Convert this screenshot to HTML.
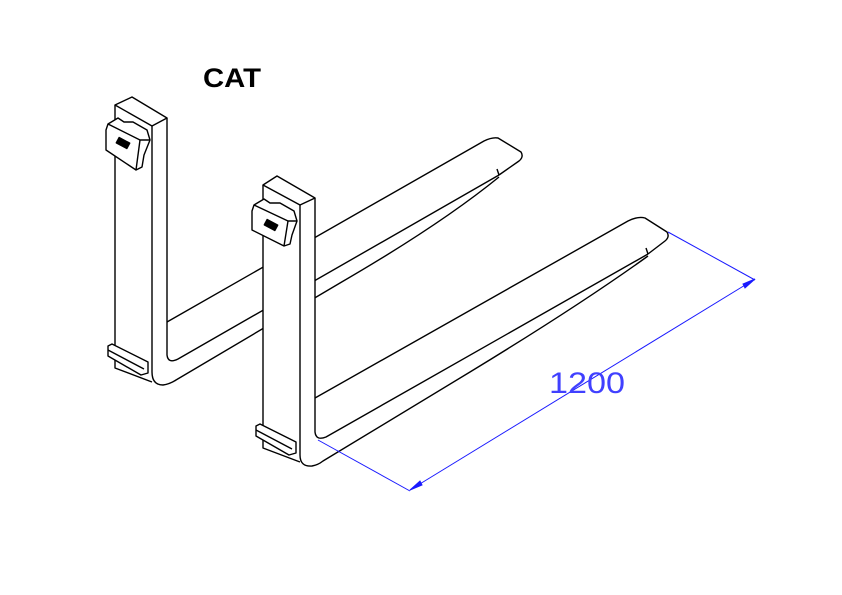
<!DOCTYPE html>
<html><head><meta charset="utf-8"><style>
html,body{margin:0;padding:0;background:#fff;}
svg{display:block;}
</style></head><body>
<svg width="842" height="595" viewBox="0 0 842 595" xmlns="http://www.w3.org/2000/svg">
<rect width="842" height="595" fill="#fff"/>
<g fill="none" stroke="#000" stroke-width="1.4" stroke-linejoin="round">
<!-- BACK FORK blade -->
<path d="M167,322 L484,141 Q492,137 498,138 L521,152 Q524,157 519,161 L499,175"/>
<path d="M167,336 L167,355 Q168,364 178,359 L499,175"/>
<path d="M497,169 L499,175"/>
<path d="M152,126 L152,372 Q152,385 163,385 Q170,384 176,380 L340,283 Q440,225 499,177"/>
<!-- back upright -->
<path d="M115,105 L132,97 L167,118 L152,126 Z"/>
<path d="M115,105 L115,368 L152,382"/>
<path d="M167,118 L167,336"/>
<!-- top clip -->
<path d="M106,130 L108,124 L118,118 L124,122 L133,122 L140,126 L147,130 L150,140 L144,155 L142,167 L136,170 L106,150 Z" fill="#fff"/>
<path d="M108,124 L140,140 L150,140"/>
<path d="M140,140 L136,170"/>
<rect x="117" y="140" width="12" height="6" fill="#000" transform="rotate(28 123 143)"/>
<!-- bottom clip -->
<path d="M108,346 L112,344 L148,362 L148,373 L141,375 L108,356 Z" fill="#fff"/>
<path d="M108,350 L144,369"/>

<!-- FRONT upright cover -->
<path d="M263,185 L277,176 L315,198 L315,455 L305,467 L263,448 Z" fill="#fff" stroke="none"/>
<!-- FRONT FORK blade -->
<path d="M315,398 L628,221 Q638,216 645,218 L667,232 Q670,237 665,241 L648,254"/>
<path d="M315,237 L315,432 Q316,441 326,437 L648,254"/>
<path d="M646,248 L648,254"/>
<path d="M300,205 L300,455 Q300,467 312,466 Q318,465 323,461 L470,372 Q580,305 648,256"/>
<!-- front upright -->
<path d="M263,185 L277,176 L315,198 L300,205 Z"/>
<path d="M263,185 L263,448 L300,462"/>
<path d="M315,198 L315,237"/>
<!-- top clip -->
<path d="M252,211 L254,205 L264,199 L270,203 L280,203 L287,207 L294,211 L297,221 L292,235 L290,244 L284,246 L252,230 Z" fill="#fff"/>
<path d="M254,205 L288,221 L297,221"/>
<path d="M288,221 L284,246"/>
<rect x="265" y="222" width="12" height="6" fill="#000" transform="rotate(28 271 225)"/>
<!-- bottom clip -->
<path d="M256,426 L260,424 L296,442 L296,453 L289,455 L256,436 Z" fill="#fff"/>
<path d="M256,430 L292,449"/>
</g>
<!-- dimension -->
<g stroke="#1a1aff" stroke-width="1" fill="#1a1aff">
<line x1="318" y1="440" x2="410" y2="491"/>
<line x1="410" y1="490" x2="755" y2="279"/>
<line x1="668" y1="232" x2="755" y2="280"/>
<path d="M410,490 L420,481 L422,485 Z"/>
<path d="M755,279 L745,288 L743,284 Z"/>
</g>
<text x="549" y="393" font-family="Liberation Sans, sans-serif" font-size="30" fill="#4040ff" textLength="76" lengthAdjust="spacingAndGlyphs">1200</text>
<text x="203" y="87" font-family="Liberation Sans, sans-serif" font-size="27" font-weight="bold" fill="#000" textLength="58" lengthAdjust="spacingAndGlyphs">CAT</text>
</svg>
</body></html>
